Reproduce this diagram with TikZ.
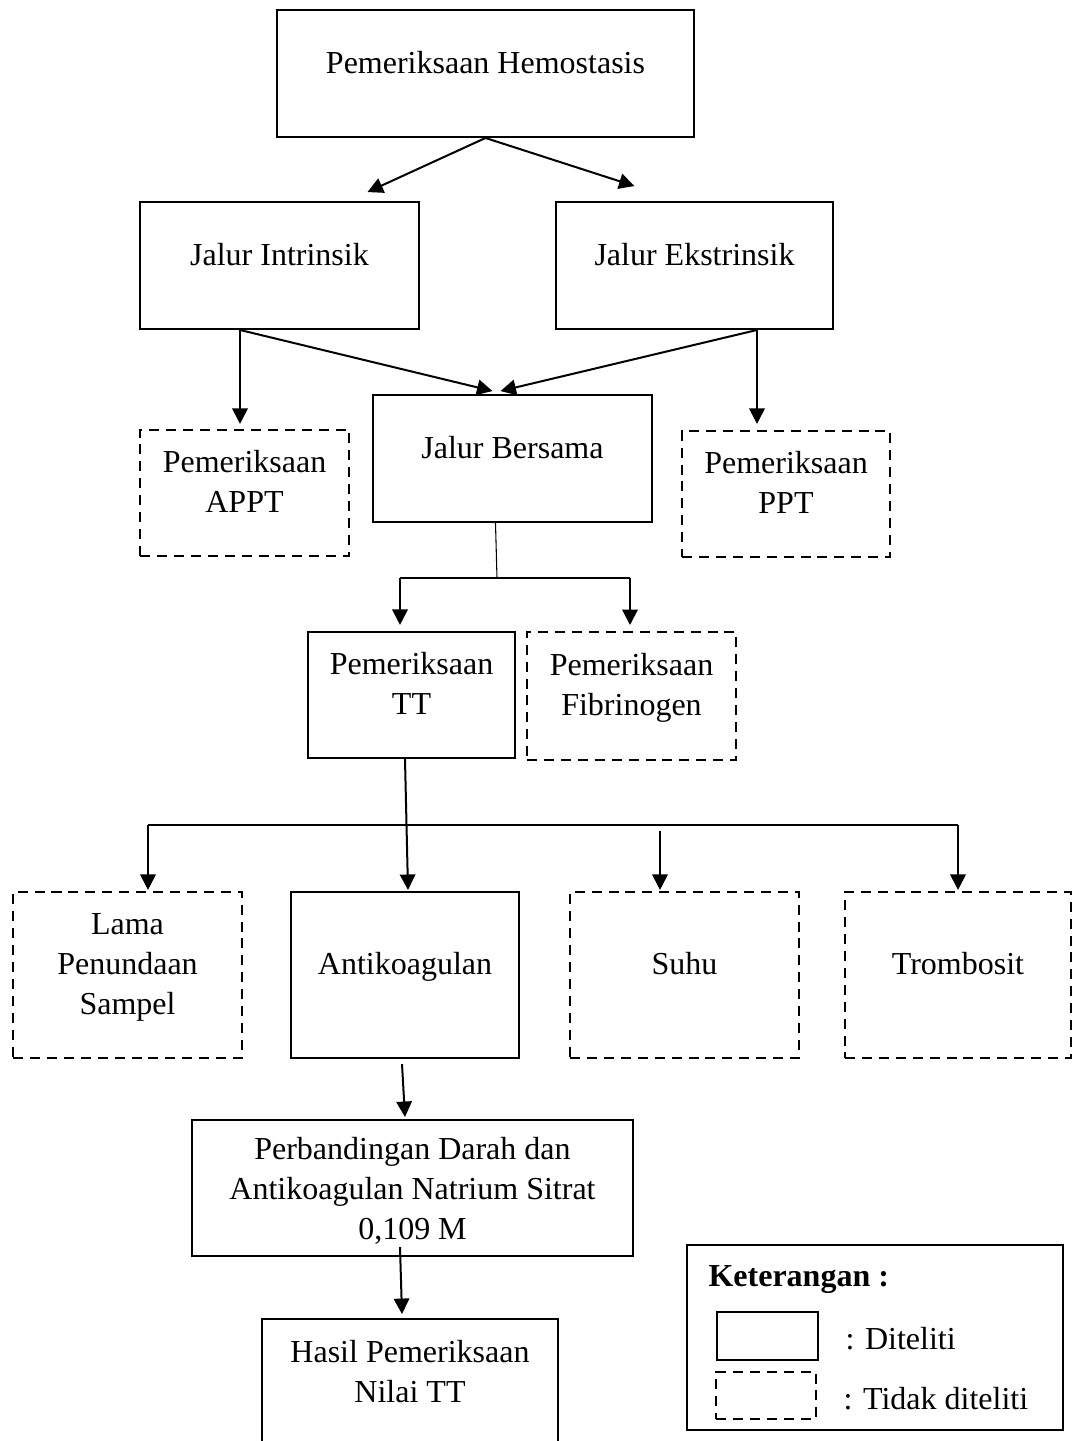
\documentclass[tikz,border=0pt]{standalone}
\usepackage{fontspec}
\setmainfont{Liberation Serif}
\usetikzlibrary{arrows.meta, calc}

\tikzset{
  >={Triangle[length=5.8pt,width=5.8pt]},
  frame/.style={draw, line width=0.75pt, align=center, inner sep=2pt},
  box/.style={frame, text depth=8.5pt},
  dbox/.style={box, dash pattern=on 3.75pt off 2.6pt},
  arr/.style={->, line width=0.75pt},
  joinline/.style={line width=0.4pt},
}

\begin{document}
\begin{tikzpicture}[x=0.375pt, y=-0.375pt, font=\fontsize{12}{15}\selectfont]
  \useasboundingbox (0,0) rectangle (1073,1441);

  \node [box, minimum width=156.4pt, minimum height=47.6pt] (hemo) at (485.5,73.5) {Pemeriksaan Hemostasis};
  \node [box, minimum width=104.6pt, minimum height=47.6pt] (intr) at (279.5,265.5) {Jalur Intrinsik};
  \node [box, minimum width=103.9pt, minimum height=47.6pt] (ekstr) at (694.5,265.5) {Jalur Ekstrinsik};

  \node [dbox, minimum width=78.4pt, minimum height=47.3pt] (appt) at (244.5,493) {Pemeriksaan\\APPT};
  \node [box, minimum width=104.6pt, minimum height=47.6pt] (bersama) at (512.5,458.5) {Jalur Bersama};
  \node [dbox, minimum width=78pt, minimum height=47.3pt] (ppt) at (786,494) {Pemeriksaan\\PPT};

  \node [box, minimum width=77.6pt, minimum height=47.3pt] (tt) at (411.5,695) {Pemeriksaan\\TT};
  \node [dbox, minimum width=78.4pt, minimum height=48pt] (fib) at (631.5,696) {Pemeriksaan\\Fibrinogen};

  \node [dbox, minimum width=85.9pt, minimum height=62.3pt] (lama) at (127.5,975) {Lama\\Penundaan\\Sampel};
  \node [box, minimum width=85.5pt, minimum height=62.3pt] (anti) at (405,975) {Antikoagulan};
  \node [dbox, minimum width=85.9pt, minimum height=62.3pt] (suhu) at (684.5,975) {Suhu};
  \node [dbox, minimum width=84.8pt, minimum height=62.3pt] (trom) at (958,975) {Trombosit};

  \node [frame, text depth=-1.8pt, minimum width=165.4pt, minimum height=51pt] (perb) at (412.5,1188) {Perbandingan Darah dan\\Antikoagulan Natrium Sitrat\\0,109 M};
  \node [box, minimum width=111pt, minimum height=47.6pt] (hasil) at (410,1382.5) {Hasil Pemeriksaan\\Nilai TT};

  \draw [arr] (hemo.south) -- ($(intr.north)+(88,-9)$);
  \draw [arr] (hemo.south) -- ($(ekstr.north)+(-60,-15)$);

  \draw [arr] ($(intr.south)+(-39.5,0)$) -- ($(appt.north)+(-4.5,-5)$);
  \draw [arr] ($(intr.south)+(-39.5,0)$) -- ($(bersama.north)+(-20,-3)$);
  \draw [arr] ($(ekstr.south)+(62.5,0)$) -- ($(bersama.north)+(-12,-3)$);
  \draw [arr] ($(ekstr.south)+(62.5,0)$) -- ($(ppt.north)+(-29,-6)$);

  \coordinate (j1) at (497,578);
  \coordinate (j1l) at (400,578);
  \coordinate (j1r) at (630,578);
  \draw [joinline] ($(bersama.south)+(-17,0)$) -- (j1);
  \draw [joinline] (j1l) -- (j1r);
  \draw [arr] (j1l) -- ($(tt.north)+(-11.5,-6)$);
  \draw [arr] (j1r) -- ($(fib.north)+(-1.5,-6)$);

  \coordinate (j2l) at (148,825);
  \coordinate (j2r) at (958,825);
  \draw [joinline] (j2l) -- (j2r);
  \draw [arr] ($(tt.south)+(-6.5,0)$) -- ($(anti.north)+(3,-1)$);
  \draw [arr] (j2l) -- ($(lama.north)+(20.5,-1)$);
  \draw [arr] ($(suhu.north)+(-24.5,-60)$) -- ($(suhu.north)+(-24.5,-1)$);
  \draw [arr] (j2r) -- ($(trom.north)+(0,-1)$);

  \draw [arr] ($(anti.south)+(-3,5)$) -- ($(perb.north)+(-7.5,-2)$);
  \draw [arr] ($(perb.south)+(-12.5,-10)$) -- ($(hasil.north)+(-8,-4)$);

  \node [frame, minimum width=141pt, minimum height=69.4pt] (leg) at (875,1337.5) {};
  \node [anchor=west, inner sep=0pt] (ket) at (708,1280) {\bfseries Keterangan :};
  \node [frame, minimum width=37.9pt, minimum height=18pt] (legsolid) at (767.5,1336) {};
  \node [frame, dash pattern=on 3.75pt off 2.6pt, minimum width=37.5pt, minimum height=17.6pt] (legdash) at (766,1395.5) {};
  \node [anchor=west, inner sep=0pt] (diteliti) at (845,1339) {: Diteliti};
  \node [anchor=west, inner sep=0pt] (tidak) at (843,1399) {: Tidak diteliti};
\end{tikzpicture}
\end{document}
